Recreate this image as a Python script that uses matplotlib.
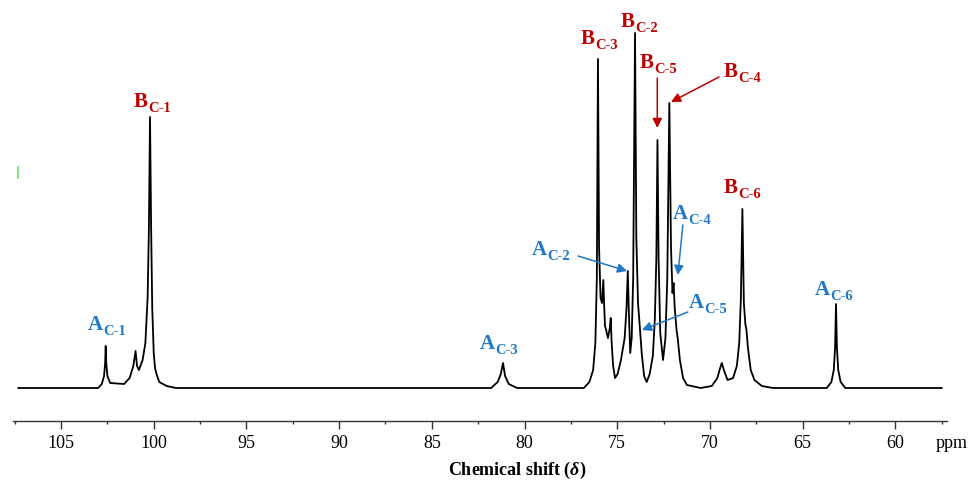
import matplotlib
matplotlib.use("Agg")
import matplotlib.pyplot as plt
from matplotlib.lines import Line2D
from matplotlib.ticker import MultipleLocator

plt.rcParams['font.family'] = ['Liberation Serif', 'DejaVu Serif']
plt.rcParams['mathtext.fontset'] = 'custom'
plt.rcParams['mathtext.it'] = 'Liberation Serif:italic:bold'
plt.rcParams['mathtext.rm'] = 'Liberation Serif:bold'

# spectrum trace: chemical shift (ppm) and intensity above baseline
shift = [107.3, 103.0, 102.8, 102.68, 102.62, 102.59, 102.56, 102.5, 102.35,
         101.6, 101.3, 101.1, 100.98, 100.9, 100.8, 100.6, 100.45, 100.33, 100.26,
         100.2, 100.14, 100.08, 100.0, 99.93, 99.85, 99.7, 99.3, 98.8,
         81.8, 81.45, 81.28, 81.16, 81.05, 80.85, 80.4,
         76.8, 76.5, 76.3, 76.18, 76.1, 76.04, 75.98, 75.9, 75.82, 75.75, 75.7,
         75.66, 75.6, 75.5, 75.4, 75.35, 75.3, 75.22, 75.12, 74.98, 74.8, 74.6,
         74.5, 74.43, 74.38, 74.3, 74.22, 74.14, 74.04, 73.97, 73.88, 73.77, 73.68,
         73.55, 73.41, 73.25, 73.08, 72.97, 72.89, 72.83, 72.77, 72.68, 72.53, 72.4,
         72.3, 72.19, 72.1, 72.02, 71.96, 71.9, 71.8, 71.74, 71.62, 71.45, 71.24,
         70.5, 69.9, 69.6, 69.45, 69.36, 69.25, 69.05, 68.75, 68.55, 68.42, 68.33,
         68.25, 68.17, 68.09, 68.03, 67.95, 67.8, 67.6, 67.2, 66.6,
         63.7, 63.45, 63.32, 63.25, 63.2, 63.15, 63.08, 62.95, 62.7, 57.5]
intensity = [0, 0, 4, 12, 25, 42, 25, 12, 5,
             4, 10, 22, 37, 22, 18, 28, 45, 90, 160,
             271, 160, 80, 35, 20, 14, 6, 2, 0,
             0, 6, 14, 25, 12, 4, 0,
             0, 6, 18, 45, 110, 329, 140, 90, 85, 108, 80,
             62, 58, 50, 60, 70, 45, 22, 10, 14, 28, 50,
             80, 117, 80, 35, 50, 110, 355, 150, 85, 58, 35,
             12, 6, 14, 32, 70, 130, 248, 130, 55, 28, 50,
             110, 285, 140, 95, 105, 80, 58, 50, 28, 10, 3,
             0, 2, 10, 20, 25, 18, 8, 10, 22, 45, 90,
             179, 85, 64, 58, 40, 18, 8, 2, 0,
             0, 6, 18, 40, 84, 40, 18, 6, 0, 0]

# peak labels: letter, subscript, colour group, text anchor (ppm, height), arrow start/tip
labels = ["B", "A", "A", "B", "B", "B", "B", "B", "A", "A", "A", "A"]
subs = ["C-1", "C-1", "C-3", "C-3", "C-2", "C-5", "C-4", "C-6", "C-2", "C-4", "C-5", "C-6"]
label_x = [100.31, 102.73, 81.60, 76.20, 74.04, 73.02, 68.48, 68.48, 78.78, 71.18, 70.32, 63.52]
label_y = [281, 58, 39, 344, 361, 320, 311, 195, 133, 169, 80, 93]
arrow_from = [None, None, None, None, None, (72.84, 310), (69.51, 311), None,
              (77.12, 132), (71.46, 163), (71.19, 76), None]
arrow_to = [None, None, None, None, None, (72.84, 260), (72.10, 286), None,
            (74.47, 117), (71.73, 113), (73.67, 58), None]

colors = {"A": "#1f78c8", "B": "#c00000"}

fig = plt.figure(figsize=(9.79, 4.88), dpi=100)
ax = fig.add_axes([13 / 979, 67 / 488, 933.7 / 979, 421 / 488])

ax.plot(shift, intensity, color='black', lw=1.3)

for i in range(len(labels)):
    c = colors[labels[i]]
    ax.text(label_x[i], label_y[i], labels[i], color=c, fontsize=15,
            fontweight='bold', ha='right', va='baseline')
    ax.text(label_x[i], label_y[i] - 5, subs[i], color=c, fontsize=10.5,
            fontweight='bold', ha='left', va='baseline')
    if arrow_from[i] is not None:
        ax.annotate("", xy=arrow_to[i], xytext=arrow_from[i],
                    arrowprops=dict(arrowstyle='-|>', color=c, lw=1.1,
                                    mutation_scale=14, shrinkA=0, shrinkB=0))

ax.set_xlim(107.59, 57.23)
ax.set_ylim(-33, 388)
for s in ['top', 'left', 'right']:
    ax.spines[s].set_visible(False)
ax.spines['bottom'].set_color('#333333')
ax.spines['bottom'].set_linewidth(1.0)
ax.set_yticks([])
ax.xaxis.set_major_locator(MultipleLocator(5))
ax.xaxis.set_minor_locator(MultipleLocator(2.5))
ax.tick_params(axis='x', which='major', direction='out', length=6, width=1,
               color='#333333', labelsize=13, pad=4)
ax.tick_params(axis='x', which='minor', direction='out', length=2.5, width=1,
               color='#333333')
ax.set_xticklabels([f"{t:g}" for t in ax.get_xticks()])

fig.text(952 / 979, 1 - 443 / 488, "ppm", fontsize=13, ha='center', va='center')
fig.text(517 / 979, 1 - 470 / 488, r"Chemical shift ($\delta$)", fontsize=13,
         fontweight='bold', ha='center', va='center')

# small green mark at the left edge of the original figure
fig.add_artist(Line2D([18 / 979, 18 / 979], [1 - 167 / 488, 1 - 178 / 488],
                      color='#66dd66', lw=1.2))

fig.savefig("out.png", dpi=100)
